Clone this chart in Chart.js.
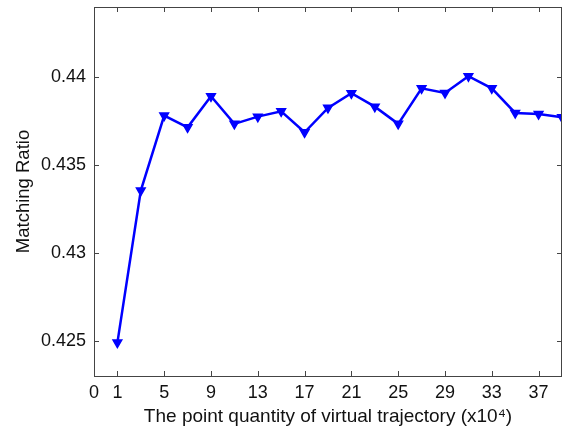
<!DOCTYPE html>
<html>
<head>
<meta charset="utf-8">
<script src="https://cdn.jsdelivr.net/npm/chart.js@4"></script>
<style>
  html, body { margin:0; padding:0; background:#fff; }
  #wrap { width:564px; height:427px; }
</style>
</head>
<body>
<div id="wrap"><canvas id="ratioChart"></canvas></div>
<script>
(function(){
  // point quantity (x10^4) and matching ratio
  const quantities = [1,3,5,7,9,11,13,15,17,19,21,23,25,27,29,31,33,35,37,39];
  const ratios = [0.4249,0.43355,0.43782,0.43715,0.43892,0.43735,0.43776,0.43806,0.43687,0.43826,
                  0.43909,0.43833,0.43735,0.43937,0.43911,0.44006,0.43937,0.43797,0.43791,0.43772];

  const xTickValues = [-1,1,5,9,13,17,21,25,29,33,37];
  const xTickLabels = ['0','1','5','9','13','17','21','25','29','33','37'];
  const yTickValues = [0.425,0.43,0.435,0.44];
  const yTickLabels = ['0.425','0.43','0.435','0.44'];

  const FONT = 'Liberation Sans, Arial, sans-serif';

  // matlab-like box with inward ticks on all four sides
  const boxTicks = {
    id:'boxTicks',
    afterDraw(chart){
      const {ctx, chartArea:a, scales:{x, y}} = chart;
      const len = 5;
      ctx.save();
      ctx.strokeStyle = '#444';
      ctx.lineWidth = 1;
      ctx.beginPath();
      xTickValues.forEach(v => {
        if(v === x.min) return;
        const px = Math.round(x.getPixelForValue(v)) + 0.5;
        ctx.moveTo(px, a.bottom); ctx.lineTo(px, a.bottom - len);
        ctx.moveTo(px, a.top); ctx.lineTo(px, a.top + len);
      });
      yTickValues.forEach(v => {
        const py = Math.round(y.getPixelForValue(v)) + 0.5;
        ctx.moveTo(a.left, py); ctx.lineTo(a.left + len, py);
        ctx.moveTo(a.right, py); ctx.lineTo(a.right - len, py);
      });
      ctx.stroke();
      ctx.strokeRect(Math.round(a.left) + 0.5, Math.round(a.top) + 0.5,
                     Math.round(a.right - a.left) - 1, Math.round(a.bottom - a.top));
      ctx.restore();
    }
  };

  const points = quantities.map((q, i) => ({ x:q, y:ratios[i] }));

  new Chart(document.getElementById('ratioChart').getContext('2d'), {
    type:'line',
    data:{ datasets:[{
      data:points,
      borderColor:'#0000ff',
      backgroundColor:'#0000ff',
      borderWidth:2.5,
      pointStyle:'triangle',
      rotation:180,
      pointRadius:5,
      pointBorderWidth:1.5,
      pointHoverRadius:5,
      tension:0
    }]},
    options:{
      responsive:true,
      maintainAspectRatio:false,
      animation:false,
      layout:{ autoPadding:false, padding:{ top:7, right:2, left:0, bottom:0 } },
      plugins:{ legend:{ display:false }, tooltip:{ enabled:false } },
      scales:{
        x:{
          type:'linear', min:-1, max:39,
          grid:{ display:false, drawTicks:false },
          border:{ display:false },
          afterBuildTicks(s){ s.ticks = xTickValues.map(v => ({ value:v })); },
          afterFit(s){ s.height = 51; s.paddingLeft = 0; s.paddingRight = 0; },
          ticks:{
            padding:6, color:'#111', maxRotation:0, autoSkip:false,
            font:{ family:FONT, size:18 },
            callback(v){ const i = xTickValues.indexOf(v); return i >= 0 ? xTickLabels[i] : ''; }
          },
          title:{
            display:true, text:'The point quantity of virtual trajectory (x10\u2074)',
            color:'#111', font:{ family:FONT, size:19 }, padding:{ top:0, bottom:-1 }
          }
        },
        y:{
          type:'linear', min:0.423, max:0.444,
          grid:{ display:false, drawTicks:false },
          border:{ display:false },
          afterBuildTicks(s){ s.ticks = yTickValues.map(v => ({ value:v })); },
          afterFit(s){ s.width = 94; s.paddingTop = 0; s.paddingBottom = 0; },
          ticks:{
            padding:8, color:'#111',
            font:{ family:FONT, size:18 },
            callback(v){ const i = yTickValues.indexOf(v); return i >= 0 ? yTickLabels[i] : ''; }
          },
          title:{
            display:true, text:'Matching Ratio',
            color:'#111', font:{ family:FONT, size:18.5 }, padding:{ top:13, bottom:0 }
          }
        }
      }
    },
    plugins:[boxTicks]
  });
})();
</script>
</body>
</html>
